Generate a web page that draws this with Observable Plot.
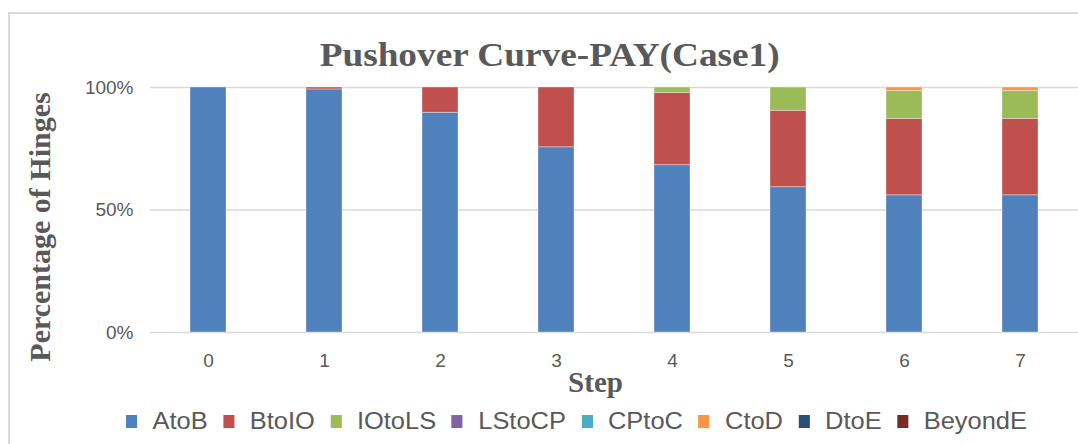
<!DOCTYPE html>
<html><head><meta charset="utf-8">
<script src="https://cdn.jsdelivr.net/npm/d3@7"></script>
<script src="https://cdn.jsdelivr.net/npm/@observablehq/plot@0.6"></script>
<style>
html,body{margin:0;padding:0;background:#fff;}
#wrap{position:relative;width:1078px;height:444px;overflow:hidden;background:#fff;}
#border{position:absolute;left:8px;top:12px;width:1120px;height:520px;border:2px solid #d9d9d9;box-sizing:border-box;}
#chart{position:absolute;left:0;top:0;}
#title{position:absolute;top:37px;left:0;width:1100px;text-align:center;line-height:33px;}
#title span{display:inline-block;font:bold 33px "Liberation Serif",serif;color:#595959;transform-origin:center center;white-space:nowrap;}
#legend{position:absolute;left:126px;top:409px;height:24px;display:flex;align-items:center;transform-origin:left center;white-space:nowrap;font:23px "Liberation Sans",sans-serif;color:#595959;}
#legend .item{display:flex;align-items:center;margin-right:14px;}
#legend .sw{width:10px;height:13px;margin-right:14px;}
</style>
</head><body>
<div id="wrap">
  <div id="border"></div>
  <div id="chart"></div>
  <div id="title"><span>Pushover Curve-PAY(Case1)</span></div>
  <div id="legend"></div>
</div>
<script>
const steps = [0, 1, 2, 3, 4, 5, 6, 7];
const series = ["AtoB", "BtoIO", "IOtoLS", "LStoCP", "CPtoC", "CtoD", "DtoE", "BeyondE"];
const colors = ["#4f81bd", "#c0504d", "#9bbb59", "#8064a2", "#4bacc6", "#f79646", "#2c4d75", "#772c2a"];
const AtoB    = [100, 99.2, 89.7, 75.6, 68.3, 59.3, 56.0, 56.0];
const BtoIO   = [0, 0.8, 10.3, 24.4, 29.5, 31.2, 31.2, 31.2];
const IOtoLS  = [0, 0, 0, 0, 2.2, 9.5, 11.4, 11.4];
const LStoCP  = [0, 0, 0, 0, 0, 0, 0, 0];
const CPtoC   = [0, 0, 0, 0, 0, 0, 0, 0];
const CtoD    = [0, 0, 0, 0, 0, 0, 1.4, 1.4];
const DtoE    = [0, 0, 0, 0, 0, 0, 0, 0];
const BeyondE = [0, 0, 0, 0, 0, 0, 0, 0];
const yTicks = [0, 50, 100];
const yTickLabels = ["0%", "50%", "100%"];
const titleText = "Pushover Curve-PAY(Case1)";
const xLabel = "Step";
const yLabel = "Percentage of Hinges";

const table = {AtoB, BtoIO, IOtoLS, LStoCP, CPtoC, CtoD, DtoE, BeyondE};
const rows = series.flatMap(s => steps.map((st, i) => ({step: String(st), series: s, value: table[s][i]})));

const chart = Plot.plot({
  width: 1078, height: 400,
  marginTop: 87, marginBottom: 68, marginLeft: 150, marginRight: 0,
  style: {background: "transparent", fontFamily: "Liberation Sans, sans-serif", fontSize: "19px", color: "#595959"},
  x: {type: "band", domain: steps.map(String), paddingInner: 0.69, paddingOuter: 0.345},
  y: {domain: [0, 100]},
  color: {domain: series, range: colors},
  marks: [
    Plot.ruleY(yTicks, {stroke: "#d9d9d9", strokeWidth: 1.5}),
    Plot.barY(rows.filter(d => d.value > 0), {x: "step", y: "value", fill: "series", stroke: "#ffffff", strokeOpacity: 0.45, strokeWidth: 0.8}),
    Plot.axisY(yTicks, {tickSize: 0, tickPadding: 17, tickFormat: d => yTickLabels[yTicks.indexOf(d)], label: null}),
    Plot.axisX({tickSize: 0, tickPadding: 21, label: null}),
    Plot.text([xLabel], {frameAnchor: "bottom", textAnchor: "middle", dx: -19, dy: 59, fontSize: 29, fontWeight: "bold", fontFamily: "Liberation Serif, serif", fill: "#595959"}),
    Plot.text([yLabel], {frameAnchor: "left", textAnchor: "middle", rotate: -90, dx: -110, dy: 17, fontSize: 30, fontWeight: "bold", fontFamily: "Liberation Serif, serif", fill: "#595959"})
  ]
});
document.getElementById("chart").appendChild(chart);

const legend = document.getElementById("legend");
series.forEach((s, i) => {
  const item = document.createElement("div");
  item.className = "item";
  const sw = document.createElement("div");
  sw.className = "sw";
  sw.style.background = colors[i];
  const t = document.createElement("span");
  t.textContent = s;
  item.appendChild(sw); item.appendChild(t);
  legend.appendChild(item);
});
legend.lastChild.style.marginRight = "0";
const lw = legend.getBoundingClientRect().width;
legend.style.transform = `scaleX(${901 / lw})`;
const ts = document.querySelector("#title span");
ts.textContent = titleText;
const tw = ts.getBoundingClientRect().width;
ts.style.transform = `scaleX(${460 / tw})`;
</script>
</body></html>
